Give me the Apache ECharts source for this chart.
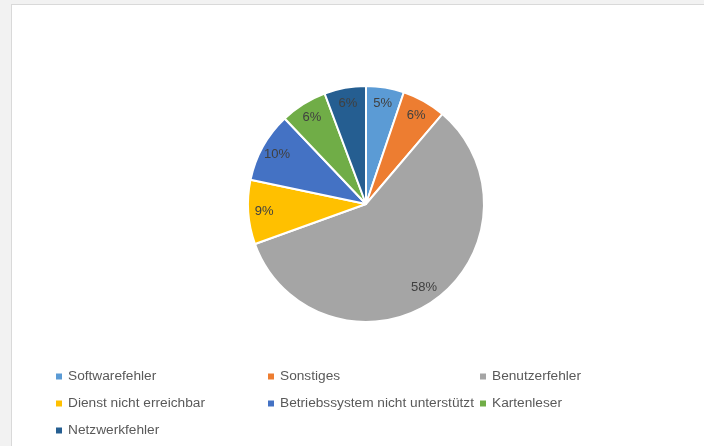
<!DOCTYPE html>
<html>
<head>
<meta charset="utf-8">
<script src="https://cdn.jsdelivr.net/npm/echarts@6/dist/echarts.min.js"></script>
<style>
  html, body { margin: 0; padding: 0; background: #f2f2f2; }
  #frame {
    position: absolute; left: 11px; top: 4px; right: 0; bottom: 0;
    background: #ffffff; border-left: 1px solid #d9d9d9; border-top: 1px solid #d9d9d9;
  }
  #chart { position: absolute; left: 0; top: 0; width: 704px; height: 446px; }
</style>
</head>
<body>
<div id="frame"></div>
<div id="chart"></div>
<script>
const categories = [
  'Softwarefehler',
  'Sonstiges',
  'Benutzerfehler',
  'Dienst nicht erreichbar',
  'Betriebssystem nicht unterstützt',
  'Kartenleser',
  'Netzwerkfehler'
];
const shares = [5.2, 6.0, 58.3, 8.8, 9.6, 6.4, 5.7];
const colors = ['#5B9BD5', '#ED7D31', '#A5A5A5', '#FFC000', '#4472C4', '#70AD47', '#255E91'];

const pieData = categories.map((name, i) => ({ name: name, value: shares[i] }));

const myChart = echarts.init(document.getElementById('chart'));

const option = {
  animation: false,
  color: colors,
  legend: {
    data: categories,
    left: 54,
    right: 0,
    top: 363,
    padding: 0,
    orient: 'horizontal',
    itemWidth: 8,
    itemHeight: 8,
    itemGap: 0,
    icon: 'rect',
    selectedMode: false,
    textStyle: {
      fontFamily: 'Liberation Sans, Arial, sans-serif',
      fontSize: 13.7,
      color: '#595959',
      width: 198,
      lineHeight: 27
    }
  },
  series: [
    {
      name: 'Fehler',
      type: 'pie',
      center: [366, 204],
      radius: [0, 118],
      startAngle: 90,
      clockwise: true,
      silent: true,
      itemStyle: { borderColor: '#ffffff', borderWidth: 2 },
      label: { show: false },
      labelLine: { show: false },
      data: pieData
    },
    {
      name: 'Beschriftung',
      type: 'pie',
      center: [366, 204],
      radius: [80, 118],
      startAngle: 90,
      clockwise: true,
      silent: true,
      percentPrecision: 0,
      itemStyle: { color: 'rgba(0,0,0,0)' },
      label: {
        show: true,
        position: 'inside',
        formatter: '{d}%',
        fontFamily: 'Liberation Sans, Arial, sans-serif',
        fontSize: 13,
        color: '#404040'
      },
      labelLine: { show: false },
      data: pieData
    }
  ]
};

myChart.setOption(option);
</script>
</body>
</html>
